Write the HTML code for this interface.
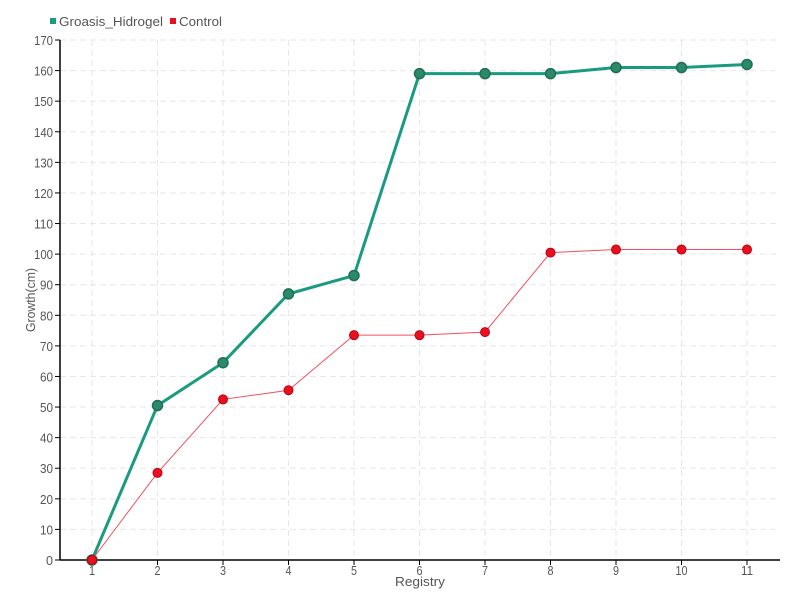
<!DOCTYPE html>
<html><head><meta charset="utf-8"><style>body{margin:0;background:#fff}svg{display:block}text{font-family:"Liberation Sans",sans-serif;fill:#555}</style></head><body>
<svg id="s" width="800" height="600" xmlns="http://www.w3.org/2000/svg"></svg>
<script>
const s=document.getElementById('s');let h='';
const X=i=>92+(i-1)*65.5, Y=v=>560-v*520/170;
for(let v=0;v<=170;v+=10){const y=Y(v);
 if(v>0)h+=`<line x1="60" x2="780" y1="${y}" y2="${y}" stroke="#e6e6e6" stroke-dasharray="6,4"/>`;
 h+=`<line x1="55" x2="60" y1="${y}" y2="${y}" stroke="#000"/>`;
 h+=`<text x="53" y="${y+5}" font-size="13" text-anchor="end" textLength="${v>=100?19:v>0?13:7}" lengthAdjust="spacingAndGlyphs">${v}</text>`;}
for(let i=1;i<=11;i++){const x=X(i);
 h+=`<line x1="${x}" x2="${x}" y1="40" y2="560" stroke="#e6e6e6" stroke-dasharray="6,4"/>`;
 h+=`<line x1="${x}" x2="${x}" y1="560" y2="565" stroke="#000"/>`;
 h+=`<text x="${x}" y="575" font-size="13" text-anchor="middle" textLength="${i>=10?12:6}" lengthAdjust="spacingAndGlyphs">${i}</text>`;}
h+=`<line x1="60" x2="60" y1="40" y2="560" stroke="#000" stroke-width="1.5"/><line x1="60" x2="780" y1="560" y2="560" stroke="#000" stroke-width="1.5"/>`;
const g=[0,50.5,64.5,87,93,159,159,159,161,161,162],r=[0,28.5,52.5,55.5,73.5,73.5,74.5,100.5,101.5,101.5,101.5];
const pts=a=>a.map((v,i)=>X(i+1)+','+Y(v)).join(' ');
h+=`<polyline points="${pts(g)}" fill="none" stroke="#1a9a7e" stroke-width="3"/>`;
g.forEach((v,i)=>h+=`<circle cx="${X(i+1)}" cy="${Y(v)}" r="5" fill="#2a8a6a" stroke="#1f6e55" stroke-width="1.5"/>`);
h+=`<polyline points="${pts(r)}" fill="none" stroke="#f05060" stroke-width="1"/>`;
r.forEach((v,i)=>h+=`<circle cx="${X(i+1)}" cy="${Y(v)}" r="4.5" fill="#e8101e" stroke="#c00010" stroke-width="1"/>`);
h+=`<rect x="50" y="18" width="6" height="6" fill="#1a9a7e"/><text x="59" y="26" font-size="13" textLength="104" lengthAdjust="spacingAndGlyphs">Groasis_Hidrogel</text>`;
h+=`<rect x="170" y="18" width="6" height="6" fill="#e8101e"/><text x="179" y="26" font-size="13" textLength="43" lengthAdjust="spacingAndGlyphs">Control</text>`;
h+=`<text x="420" y="586" font-size="13" text-anchor="middle" textLength="50" lengthAdjust="spacingAndGlyphs">Registry</text>`;
h+=`<text transform="translate(35,300) rotate(-90)" font-size="13" text-anchor="middle" textLength="64" lengthAdjust="spacingAndGlyphs">Growth(cm)</text>`;
s.innerHTML=h;
</script></body></html>
